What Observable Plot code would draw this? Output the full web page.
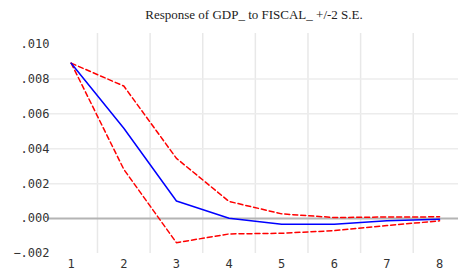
<!DOCTYPE html>
<html><head><meta charset="utf-8">
<script src="https://cdn.jsdelivr.net/npm/d3@7"></script>
<script src="https://cdn.jsdelivr.net/npm/@observablehq/plot@0.6"></script>
<style>
body{margin:0;background:#fff;}
#title{height:30px;line-height:30px;padding-left:50px;text-align:center;font-family:"Liberation Serif",serif;font-size:13px;color:#222;}
</style></head>
<body>
<div id="title">Response of GDP_ to FISCAL_ +/-2 S.E.</div>
<div id="chart"></div>
<script>
const periods = [1,2,3,4,5,6,7,8];
const response = [0.0089,0.00517,0.00101,0.00002,-0.00033,-0.00033,-0.00013,-0.00004];
const upper = [0.0089,0.00759,0.00345,0.00098,0.00027,0.00006,0.00009,0.0001];
const lower = [0.0089,0.00282,-0.00138,-0.00088,-0.00084,-0.00069,-0.0004,-0.00013];
const yTicks = [-0.002,0,0.002,0.004,0.006,0.008,0.010];
const yGrid = [0.002,0.004,0.006,0.008];
const xGrid = [1.5,2.5,3.5,4.5,5.5,6.5,7.5];

const rows = periods.map((p,i)=>({p, r:response[i], u:upper[i], l:lower[i]}));
const fmt = v => { if (Math.abs(v)<1e-12) return ".000"; const s=d3.format(".3f")(v); return s.replace("0.","."); };

const chart = Plot.plot({
  width:458, height:243,
  marginLeft:47, marginRight:0, marginTop:3, marginBottom:20,
  x:{domain:[0.55,8.36], axis:null, label:null},
  y:{domain:[-0.002,0.0106], axis:null, label:null},
  style:{fontFamily:"'DejaVu Sans Mono', monospace", fontSize:"12px", color:"#333"},
  marks:[
    Plot.ruleX(xGrid,{stroke:"#e8e8e8",strokeWidth:1.5}),
    Plot.ruleY(yGrid,{stroke:"#ececec",strokeWidth:1.5}),
    Plot.ruleY([0],{stroke:"#b4b4b4",strokeWidth:2}),
    Plot.axisY(yTicks,{tickSize:0,tickPadding:0,tickFormat:fmt,fontSize:12,dx:2,fill:"#333",label:null}),
    Plot.axisX(periods,{tickSize:0,tickPadding:6,fontSize:12,fill:"#333",label:null}),
    Plot.line(rows,{x:"p",y:"u",stroke:"#ff0000",strokeWidth:1.5,strokeDasharray:"5,3"}),
    Plot.line(rows,{x:"p",y:"l",stroke:"#ff0000",strokeWidth:1.5,strokeDasharray:"5,3"}),
    Plot.line(rows,{x:"p",y:"r",stroke:"#0000ff",strokeWidth:1.5})
  ]
});
document.getElementById("chart").appendChild(chart);
</script>
</body></html>
